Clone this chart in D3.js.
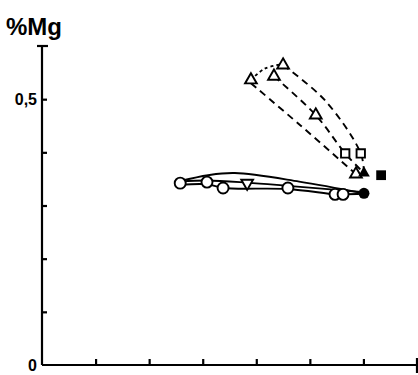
<!DOCTYPE html>
<html>
<head>
<meta charset="utf-8">
<script src="https://cdn.jsdelivr.net/npm/d3@7"></script>
<style>
  body { margin: 0; background: #fff; }
  svg { display: block; font-family: "Liberation Sans", Arial, sans-serif; }
</style>
</head>
<body>
<div id="chart"></div>
<script>
const W = 418;
const H = 375;

// axis ticks (x ticks are unlabeled)
const xTicks = [0, 1, 2, 3, 4, 5, 6, 7];
const yTicks = [0, 0.1, 0.2, 0.3, 0.4, 0.5, 0.6];
const yLabels = [[0, "0"], [0.5, "0,5"]];

// solid series (circles)
const openCircles = [[2.58, 0.342], [3.08, 0.344], [3.38, 0.333], [4.59, 0.333], [5.47, 0.321], [5.62, 0.321]];
const downTriangles = [[3.83, 0.342]];
const filledCircles = [[6.01, 0.323]];
const solidUpper = [[2.58, 0.346], [3.1, 0.357], [3.6, 0.361], [4.8, 0.345], [6.01, 0.323]];
const solidMiddle = [[2.58, 0.345], [3.08, 0.347], [3.83, 0.343], [4.59, 0.337], [6.01, 0.325]];
const solidLower = [[2.58, 0.339], [3.08, 0.340], [3.38, 0.333], [4.59, 0.331], [5.47, 0.321], [5.62, 0.321], [6.01, 0.322]];

// dashed series (triangles / squares)
const openTriangles = [[3.90, 0.536], [4.50, 0.564], [4.33, 0.543], [5.11, 0.470], [5.86, 0.359]];
const openSquares = [[5.66, 0.398], [5.95, 0.398]];
const filledTriangles = [[6.01, 0.361]];
const filledSquares = [[6.33, 0.357]];
const dashArc = [[3.90, 0.536], [4.15, 0.557], [4.50, 0.566]];
const dashOuter = [[4.50, 0.564], [5.28, 0.498], [5.95, 0.398], [6.01, 0.361]];
const dashMid = [[4.33, 0.543], [5.11, 0.470], [5.66, 0.398], [6.01, 0.361]];
const dashInner = [[3.90, 0.530], [4.82, 0.451], [5.86, 0.359]];

const x = d3.scaleLinear().domain([0, 7]).range([42, 417]);
const y = d3.scaleLinear().domain([0, 0.6]).range([365, 46]);

const svg = d3.select("#chart").append("svg")
  .attr("width", W)
  .attr("height", H);

// axes
const xAxis = d3.axisBottom(x).tickValues(xTicks.slice(1, 7)).tickSize(-6).tickFormat("");
svg.append("g")
  .attr("transform", `translate(0, ${y(0)})`)
  .call(xAxis)
  .call(g => g.select(".domain").attr("d", `M${x(0)},0H${x(7)}`))
  .call(g => g.selectAll("path, line").attr("stroke", "#000").attr("stroke-width", 2.2));

const yAxis = d3.axisLeft(y).tickValues(yTicks.slice(1, 6)).tickSize(-5).tickFormat("");
svg.append("g")
  .attr("transform", `translate(${x(0)}, 0)`)
  .call(yAxis)
  .call(g => g.select(".domain").attr("d", `M0,${y(0)}V${y(0.6)}`))
  .call(g => g.selectAll("path, line").attr("stroke", "#000").attr("stroke-width", 2.2));

// end caps
svg.append("line")
  .attr("x1", x(0) - 5).attr("x2", x(0) + 6)
  .attr("y1", y(0.6)).attr("y2", y(0.6))
  .attr("stroke", "#000").attr("stroke-width", 2.2);
svg.append("line")
  .attr("x1", x(7)).attr("x2", x(7))
  .attr("y1", y(0) - 7).attr("y2", y(0) + 8)
  .attr("stroke", "#000").attr("stroke-width", 2.2);

// labels
svg.selectAll(".ylab").data(yLabels).join("text")
  .attr("class", "ylab")
  .attr("x", 37)
  .attr("y", d => y(d[0]) + 6)
  .attr("text-anchor", "end")
  .attr("font-size", 16)
  .attr("font-weight", "bold")
  .text(d => d[1]);

svg.append("text")
  .attr("x", 6)
  .attr("y", 35)
  .attr("font-size", 24)
  .attr("font-weight", "bold")
  .text("%Mg");

// curves
const line = d3.line().x(d => x(d[0])).y(d => y(d[1])).curve(d3.curveCatmullRom.alpha(0.5));

[solidUpper, solidMiddle, solidLower].forEach(s => {
  svg.append("path").attr("d", line(s))
    .attr("fill", "none").attr("stroke", "#000").attr("stroke-width", 1.9);
});

svg.append("path").attr("d", line(dashArc))
  .attr("fill", "none").attr("stroke", "#000").attr("stroke-width", 1.9)
  .attr("stroke-dasharray", "3,3");
[dashOuter, dashMid, dashInner].forEach(s => {
  svg.append("path").attr("d", line(s))
    .attr("fill", "none").attr("stroke", "#000").attr("stroke-width", 1.9)
    .attr("stroke-dasharray", "7,5");
});

// markers
const tri = d3.symbol().type(d3.symbolTriangle).size(60);
const sq = d3.symbol().type(d3.symbolSquare).size(70);
const sqFilled = d3.symbol().type(d3.symbolSquare).size(95);

svg.selectAll(".oc").data(openCircles).join("circle")
  .attr("cx", d => x(d[0])).attr("cy", d => y(d[1])).attr("r", 5.5)
  .attr("fill", "#fff").attr("stroke", "#000").attr("stroke-width", 1.9);

svg.selectAll(".fc").data(filledCircles).join("circle")
  .attr("cx", d => x(d[0])).attr("cy", d => y(d[1])).attr("r", 5.5)
  .attr("fill", "#000");

svg.selectAll(".dt").data(downTriangles).join("path")
  .attr("d", tri)
  .attr("transform", d => `translate(${x(d[0])}, ${y(d[1])}) rotate(180)`)
  .attr("fill", "#fff").attr("stroke", "#000").attr("stroke-width", 1.9);

svg.selectAll(".ot").data(openTriangles).join("path")
  .attr("d", tri)
  .attr("transform", d => `translate(${x(d[0])}, ${y(d[1])})`)
  .attr("fill", "#fff").attr("stroke", "#000").attr("stroke-width", 1.9);

svg.selectAll(".os").data(openSquares).join("path")
  .attr("d", sq)
  .attr("transform", d => `translate(${x(d[0])}, ${y(d[1])})`)
  .attr("fill", "#fff").attr("stroke", "#000").attr("stroke-width", 1.9);

svg.selectAll(".ft").data(filledTriangles).join("path")
  .attr("d", tri)
  .attr("transform", d => `translate(${x(d[0])}, ${y(d[1])})`)
  .attr("fill", "#000");

svg.selectAll(".fs").data(filledSquares).join("path")
  .attr("d", sqFilled)
  .attr("transform", d => `translate(${x(d[0])}, ${y(d[1])})`)
  .attr("fill", "#000");
</script>
</body>
</html>
